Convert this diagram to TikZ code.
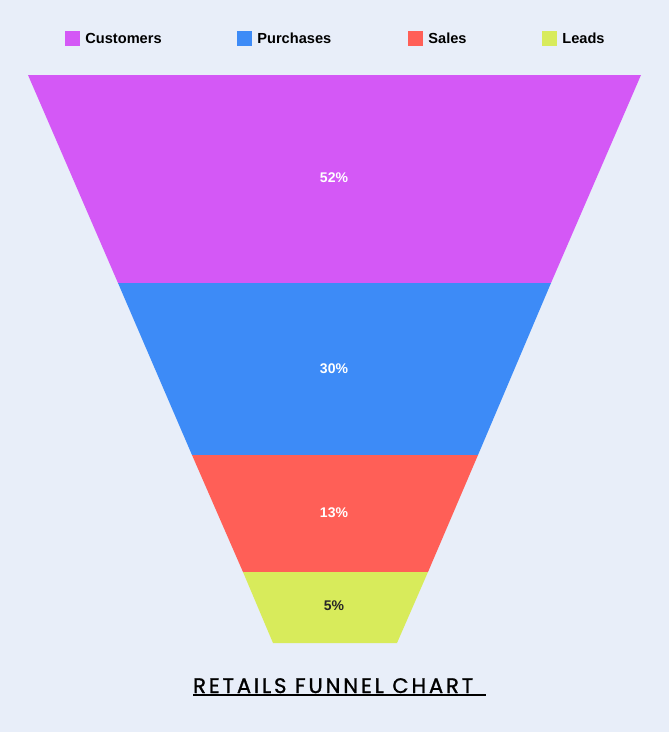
\documentclass[tikz,border=0pt]{standalone}
\usepackage{fontspec}
\setmainfont{Liberation Sans}
\newfontfamily\titlefont[LetterSpace=14,FakeBold=1.2]{Poppins}
\usetikzlibrary{positioning}
\definecolor{bgcol}{HTML}{E8EEF9}
\definecolor{custcol}{HTML}{D458F6}
\definecolor{purchcol}{HTML}{3D8BF7}
\definecolor{salescol}{HTML}{FF5F57}
\definecolor{leadcol}{HTML}{D8EB5B}

\begin{document}
\begin{tikzpicture}[x=1pt,y=-1pt,
  swatch/.style={minimum size=15pt,inner sep=0pt},
  legtext/.style={font=\bfseries\fontsize{14.6}{14.6}\selectfont,inner sep=0pt,right=5pt of #1},
  pct/.style={font=\bfseries\fontsize{14}{14}\selectfont,text=white,inner sep=0pt}]
\fill[bgcol] (0,0) rectangle (669,732);
% funnel layers
\fill[custcol] (28,75) -- (641,75) -- (551,283) -- (118,283) -- cycle;
\fill[purchcol] (118,283) -- (551,283) -- (478,455) -- (192,455) -- cycle;
\fill[salescol] (192,455) -- (478,455) -- (428,572) -- (243,572) -- cycle;
\fill[leadcol] (243,572) -- (428,572) -- (397,643) -- (273,643) -- cycle;
\node[pct] (p1) at (334,178) {52\%};
\node[pct] (p2) at (334,369) {30\%};
\node[pct] (p3) at (334,513) {13\%};
\node[pct,text=black!85] (p4) at (334,606) {5\%};
% legend
\node[swatch,fill=custcol] (sw1) at (72.5,38.5) {};
\node[legtext=sw1] (lg1) {Customers};
\node[swatch,fill=purchcol] (sw2) at (244.5,38.5) {};
\node[legtext=sw2] (lg2) {Purchases};
\node[swatch,fill=salescol] (sw3) at (415.5,38.5) {};
\node[legtext=sw3] (lg3) {Sales};
\node[swatch,fill=leadcol] (sw4) at (549.5,38.5) {};
\node[legtext=sw4] (lg4) {Leads};
% title
\node[font=\titlefont\fontsize{21}{21}\selectfont,inner sep=0pt,anchor=base west] (title) at (193,693) {RETAILS FUNNEL CHART};
\draw[line width=2pt] (193,695) -- (486,695);
\end{tikzpicture}
\end{document}
